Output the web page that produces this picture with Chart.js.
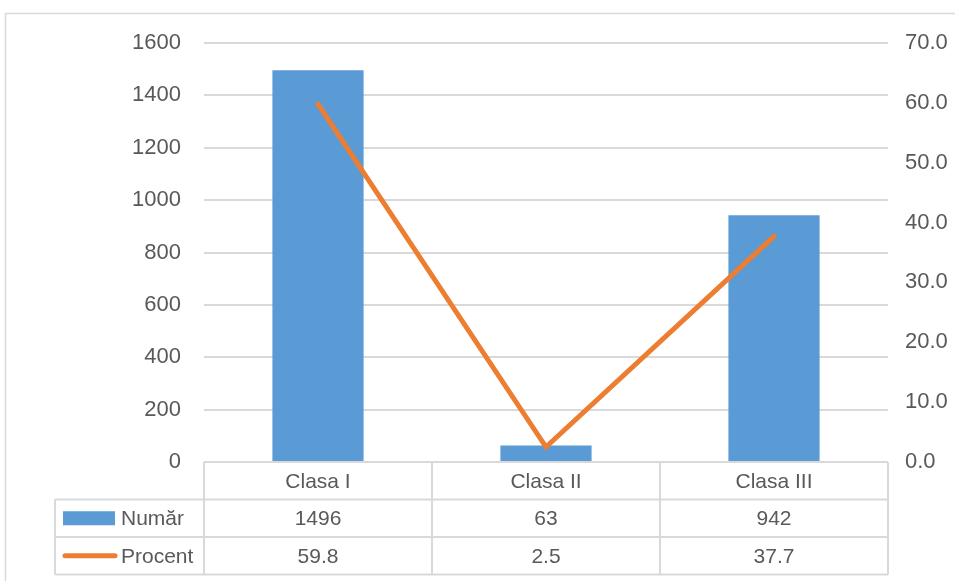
<!DOCTYPE html>
<html>
<head>
<meta charset="utf-8">
<title>Număr și procent pe clase</title>
<script src="https://cdn.jsdelivr.net/npm/chart.js@4.4.1/dist/chart.umd.min.js"></script>
<style>
  html, body { margin: 0; padding: 0; background: #fff; }
  #chart { display: block; }
</style>
</head>
<body>
<canvas id="chart" width="955" height="581"></canvas>
<script>
// date
const clase = ['Clasa I', 'Clasa II', 'Clasa III'];
const numar = [1496, 63, 942];
const procent = [59.8, 2.5, 37.7];

const BLUE = '#5B9BD5';
const ORANGE = '#ED7D31';
const GRID = '#d9d9d9';
const TEXT = '#595959';
const FONT = '"Liberation Sans", Arial, sans-serif';
const AXIS_SIZE = 22;
const TABLE_SIZE = 21;

// tabelul de date sub grafic + chenarul exterior
const dataTable = {
  id: 'dataTable',
  beforeDraw(chart) {
    const ctx = chart.ctx;
    ctx.save();
    ctx.strokeStyle = GRID;
    ctx.lineWidth = 1.5;
    ctx.beginPath();
    ctx.moveTo(5.5, chart.height + 5);
    ctx.lineTo(5.5, 13.5);
    ctx.lineTo(chart.width + 5, 13.5);
    ctx.stroke();
    ctx.restore();
  },
  afterDraw(chart) {
    const ctx = chart.ctx;
    const x = chart.scales.x;
    const area = chart.chartArea;
    const rowH = 37.5;
    const top = area.bottom;
    const tableLeft = 55;
    const half = (area.right - area.left) / clase.length / 2;
    const barSet = chart.data.datasets.find(d => d.type === 'bar');
    const lineSet = chart.data.datasets.find(d => d.type === 'line');

    ctx.save();
    ctx.strokeStyle = GRID;
    ctx.lineWidth = 2;
    ctx.beginPath();
    // linii orizontale
    ctx.moveTo(area.left, top);
    ctx.lineTo(area.right, top);
    for (let r = 1; r <= 3; r++) {
      ctx.moveTo(tableLeft, top + r * rowH);
      ctx.lineTo(area.right, top + r * rowH);
    }
    // linii verticale
    ctx.moveTo(tableLeft, top + rowH);
    ctx.lineTo(tableLeft, top + 3 * rowH);
    for (let i = 0; i < clase.length; i++) {
      const cx = x.getPixelForValue(i);
      ctx.moveTo(cx - half, top);
      ctx.lineTo(cx - half, top + 3 * rowH);
    }
    ctx.moveTo(area.right, top);
    ctx.lineTo(area.right, top + 3 * rowH);
    ctx.stroke();

    ctx.fillStyle = TEXT;
    ctx.font = TABLE_SIZE + 'px ' + FONT;
    ctx.textAlign = 'center';
    ctx.textBaseline = 'middle';
    clase.forEach((c, i) => {
      const cx = x.getPixelForValue(i);
      ctx.fillText(c, cx, top + rowH * 0.5 + 1);
      ctx.fillText(String(barSet.data[i]), cx, top + rowH * 1.5 + 1);
      ctx.fillText(lineSet.data[i].toFixed(1), cx, top + rowH * 2.5 + 1);
    });

    // cheile legendei
    ctx.fillStyle = BLUE;
    ctx.fillRect(63, top + rowH * 1.5 - 7, 52, 14);
    ctx.strokeStyle = ORANGE;
    ctx.lineWidth = 5;
    ctx.lineCap = 'round';
    ctx.beginPath();
    ctx.moveTo(65, top + rowH * 2.5);
    ctx.lineTo(115, top + rowH * 2.5);
    ctx.stroke();

    ctx.fillStyle = TEXT;
    ctx.textAlign = 'left';
    ctx.fillText(barSet.label, 121, top + rowH * 1.5 + 1);
    ctx.fillText(lineSet.label, 121, top + rowH * 2.5 + 1);
    ctx.restore();
  }
};

new Chart(document.getElementById('chart'), {
  data: {
    labels: clase,
    datasets: [
      {
        type: 'line',
        label: 'Procent',
        data: procent,
        yAxisID: 'y1',
        borderColor: ORANGE,
        borderWidth: 5,
        borderCapStyle: 'round',
        pointRadius: 0,
        tension: 0,
        order: 0
      },
      {
        type: 'bar',
        label: 'Număr',
        data: numar,
        yAxisID: 'y',
        backgroundColor: BLUE,
        barPercentage: 0.4,
        categoryPercentage: 1,
        order: 1
      }
    ]
  },
  options: {
    responsive: false,
    animation: false,
    layout: { padding: { top: 43, bottom: 119, left: 0, right: 0 } },
    plugins: {
      legend: { display: false },
      tooltip: { enabled: false }
    },
    scales: {
      x: {
        display: false,
        offset: true
      },
      y: {
        position: 'left',
        min: 0,
        max: 1600,
        ticks: {
          stepSize: 200,
          padding: 23,
          color: TEXT,
          font: { family: FONT, size: AXIS_SIZE },
          callback: v => String(v)
        },
        grid: { color: GRID, lineWidth: 2, drawTicks: false },
        border: { display: false },
        afterFit(scale) { scale.width = 204; }
      },
      y1: {
        position: 'right',
        min: 0,
        max: 70,
        ticks: {
          stepSize: 10,
          padding: 17,
          color: TEXT,
          font: { family: FONT, size: AXIS_SIZE },
          callback: v => v.toFixed(1)
        },
        grid: { display: false, drawTicks: false },
        border: { display: false },
        afterFit(scale) { scale.width = 67; }
      }
    }
  },
  plugins: [dataTable]
});
</script>
</body>
</html>
